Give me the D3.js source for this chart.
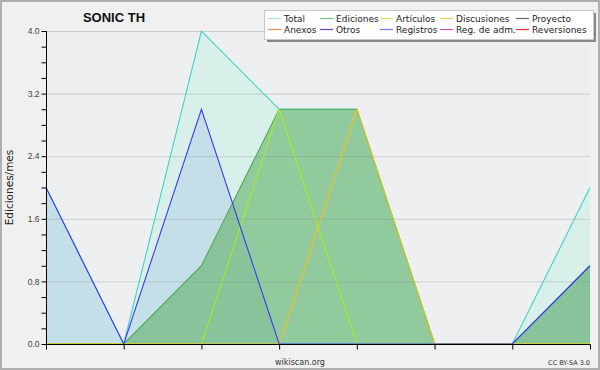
<!DOCTYPE html>
<html>
  <head>
    <title>SONIC TH</title>
    <script src="https://d3js.org/d3.v7.min.js"></script>
    <style>
      body { margin: 0; background: #f0f0f0; }
      svg { display: block; font-family: "DejaVu Sans", sans-serif; }
      .axis .domain { stroke: #000; }
      .axis .tick line { stroke: #000; }
      .axis .tick text { font-family: "Liberation Sans", sans-serif; font-size: 8.5px; fill: #444; }
      .grid line { stroke: #888; stroke-opacity: 0.32; }
      .legend text { font-size: 9px; fill: #222; }
    </style>
  </head>
  <body>
    <svg width="600" height="370"></svg>
    <script>
      // months shown on the x axis (no labels printed in the original)
      const months = ["m1", "m2", "m3", "m4", "m5", "m6", "m7", "m8"];

      const total       = [2, 0, 4, 3, 3, 0, 0, 2];
      const ediciones   = [0, 0, 1, 3, 3, 0, 0, 1];
      const articulos   = [0, 0, 0, 3, 0, 0, 0, 0];
      const discusiones = [0, 0, 0, 0, 3, 0, 0, 0];
      const registros   = [2, 0, 3, 0, 0, 0, 0, 1];

      const yTicks = [0, 0.8, 1.6, 2.4, 3.2, 4.0];

      const legendNames = ["Total", "Ediciones", "Artículos", "Discusiones", "Proyecto",
                           "Anexos", "Otros", "Registros", "Reg. de adm.", "Reversiones"];
      const legendColors = ["#aadfdc", "#77c27a", "#c8ec5a", "#f8cc5c", "#6a6a6a",
                            "#f08a50", "#7a3ccc", "#7a7aff", "#cc50cc", "#e83a3a"];

      const svg = d3.select("svg");
      const width = +svg.attr("width");
      const height = +svg.attr("height");
      const plot = {left: 46, right: 590, top: 31, bottom: 344};

      svg.append("rect")
          .attr("x", 1).attr("y", 1)
          .attr("width", width - 2).attr("height", height - 2)
          .attr("fill", "#f0f0f0")
          .attr("stroke", "#b0b0b0")
          .attr("stroke-width", 2);
      svg.append("rect")
          .attr("x", plot.left).attr("y", plot.top)
          .attr("width", plot.right - plot.left).attr("height", plot.bottom - plot.top)
          .attr("fill", "#eeeff1");

      const xScale = d3.scalePoint().domain(months).range([plot.left, plot.right]);
      const yScale = d3.scaleLinear().domain([0, 4]).range([plot.bottom, plot.top]);

      const area = d3.area()
        .x((d, i) => xScale(months[i]))
        .y0(plot.bottom)
        .y1(d => yScale(d));
      const line = d3.line()
        .x((d, i) => xScale(months[i]))
        .y(d => yScale(d));

      // filled series
      svg.append("path").attr("d", area(total)).attr("fill", "#d9f0ea");
      svg.append("path").attr("d", area(registros)).attr("fill", "#c5dfe8");
      svg.append("path").attr("d", area(ediciones))
          .attr("fill", "rgb(95,177,105)").attr("fill-opacity", 0.6);

      // grid
      svg.append("g").attr("class", "grid")
        .selectAll("line").data(yTicks.slice(1))
        .enter().append("line")
          .attr("x1", plot.left).attr("x2", plot.right)
          .attr("y1", d => yScale(d) + 0.5).attr("y2", d => yScale(d) + 0.5);

      // lines
      const lines = [
        [total, "#3fd3cb"],
        [ediciones, "#4caa50"],
        [articulos, "#a8ec22"],
        [discusiones, "#f0c418"],
        [registros, "#3c3cf0"]
      ];
      lines.forEach(([vals, color]) => {
        svg.append("path").attr("d", line(vals))
          .attr("fill", "none").attr("stroke", color).attr("stroke-width", 1.1);
      });

      // axes
      const yAxis = d3.axisLeft(yScale)
        .tickValues(d3.range(0, 4.01, 0.2))
        .tickSize(5)
        .tickPadding(2)
        .tickFormat(d => yTicks.some(t => Math.abs(t - d) < 1e-6) ? d3.format(".1f")(d) : "");
      svg.append("g").attr("class", "axis")
          .attr("transform", `translate(${plot.left + 0.5},0)`)
          .call(yAxis)
          .call(g => g.select(".domain").attr("d", `M0,${plot.top}V${plot.bottom + 0.5}`));

      const xAxis = d3.axisBottom(xScale).tickSize(5).tickFormat("");
      svg.append("g").attr("class", "axis")
          .attr("transform", `translate(0,${plot.bottom + 0.5})`)
          .call(xAxis)
          .call(g => g.select(".domain").attr("d", `M${plot.left},0H${plot.right + 0.5}`));

      // texts
      svg.append("text")
          .attr("x", 114).attr("y", 22)
          .attr("text-anchor", "middle")
          .style("font-family", "'Liberation Sans', sans-serif")
          .style("font-weight", "bold").style("font-size", "13px")
          .attr("fill", "#111")
          .text("SONIC TH");
      svg.append("text")
          .attr("transform", `translate(13,${(plot.top + plot.bottom) / 2}) rotate(-90)`)
          .attr("text-anchor", "middle")
          .style("font-size", "10.5px").attr("fill", "#222")
          .text("Ediciones/mes");
      svg.append("text")
          .attr("x", 300).attr("y", 365)
          .attr("text-anchor", "middle")
          .style("font-size", "8px").attr("fill", "#333")
          .text("wikiscan.org");
      svg.append("text")
          .attr("x", 590).attr("y", 365)
          .attr("text-anchor", "end")
          .style("font-size", "6.5px").attr("fill", "#333")
          .text("CC BY-SA 3.0");

      // legend
      const lg = svg.append("g").attr("class", "legend");
      lg.append("rect").attr("x", 267).attr("y", 13).attr("width", 329).attr("height", 29).attr("fill", "#888");
      lg.append("rect").attr("x", 264.5).attr("y", 10.5).attr("width", 329).attr("height", 29)
          .attr("fill", "#fff").attr("stroke", "#c8c8c8");
      const colX = [268, 320, 380, 440, 516];
      legendNames.forEach((name, i) => {
        const cx = colX[i % 5];
        const cy = i < 5 ? 18.5 : 29.5;
        lg.append("line")
            .attr("x1", cx).attr("x2", cx + 13)
            .attr("y1", cy).attr("y2", cy)
            .attr("stroke", legendColors[i]).attr("stroke-width", 1.2);
        lg.append("text")
            .attr("x", cx + 16).attr("y", cy + 3.5)
            .text(name);
      });
    </script>
  </body>
</html>
